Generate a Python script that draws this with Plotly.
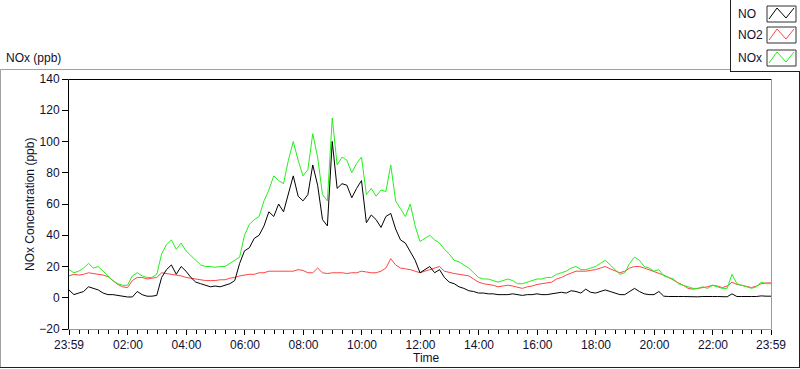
import datetime as dt
import plotly.graph_objects as go

# ---- data (10-minute samples) ----
start_time = "2000-01-01 23:59"
step_minutes = 10

no = [5, 2, 3, 4, 7, 6, 5, 3, 2, 2, 1.5, 1, 0.5, 0.5, 4, 2, 1, 1, 1.5, 13,
      18, 21, 15, 20, 17, 13, 10, 9, 8, 7, 7.5, 7, 8, 9, 11, 22, 30, 32, 38, 40,
      46, 55, 52, 60, 55, 66, 78, 65, 62, 66, 85, 72, 50, 46, 100, 70, 73, 72, 64, 70,
      75, 48, 53, 50, 45, 52, 54, 44, 37, 35, 29, 24, 16, 18, 20, 16, 18, 13, 10, 9,
      7, 6, 4.5, 4, 3, 3, 2.5, 2.5, 2, 2, 2, 2.5, 2, 1.5, 2, 2, 2.5, 2, 2, 2.5,
      3, 3.5, 3, 4.5, 4, 3, 5.5, 3.5, 3, 4, 5, 4, 3, 2, 2, 4, 6, 4, 2.5, 2,
      2, 4, 1, 0.8, 1, 0.8, 0.8, 0.6, 0.8, 0.6, 0.8, 0.6, 0.8, 0.8, 0.8, 0.6, 2.5, 0.8, 0.8, 0.6,
      0.8, 0.8, 1.2, 1, 1]

nox = [18, 16, 17, 19, 22, 19, 20, 17, 14, 11, 9, 8, 8, 14, 16, 14, 13, 13, 15, 28,
       34, 37, 31, 35, 30, 27, 24, 21, 20, 20, 19.5, 20, 20, 22, 24, 26, 40, 47, 50, 52,
       62, 69, 78, 75, 73, 88, 100, 88, 78, 82, 105, 90, 66, 62, 115, 85, 90, 88, 80, 86,
       90, 66, 70, 65, 69, 68, 85, 62, 57, 52, 60, 46, 36, 38, 40, 37, 35, 31, 28, 24,
       23, 21, 19, 16, 13, 12, 12, 11, 10, 11, 12, 11, 9, 9, 10, 11, 12, 12, 13, 13,
       15, 16, 17, 19, 20, 18, 18, 19, 20, 22, 24, 21, 18, 15, 16, 22, 26, 24, 20, 19,
       17, 18, 14, 13, 12, 9, 8, 7, 6, 6, 7, 6, 8, 7, 6, 6, 15, 9, 8, 7,
       6, 7, 10, 9, 9]

no2 = [14, 15, 14.5, 15, 16, 15.5, 15, 14.5, 13.5, 11, 8.5, 7, 6.5, 11, 13, 13, 12, 12.5, 13, 16,
       15.5, 15, 14.5, 14, 13, 12.5, 12, 11.5, 11, 11, 11, 11.5, 11.5, 12.5, 13, 14, 14.5, 15, 15, 16,
       16, 17, 17, 17, 17, 17, 17, 18, 17.5, 16, 16, 19, 16, 15.5, 16, 16, 16, 15.5, 16, 16,
       17, 16.5, 16, 16, 17, 19, 25, 21, 19, 18.5, 18, 17, 16, 17, 18, 18.5, 20, 17, 16, 15.5,
       15, 14.5, 14, 12, 10, 9, 8.5, 8, 7, 7.5, 8, 7.5, 6.5, 6, 7, 7.5, 8.5, 9, 9.5, 10,
       12, 13, 14.5, 16, 17, 17, 17, 17.5, 18, 19, 20, 18.5, 17, 16, 17, 19, 20, 20, 19, 18,
       17, 16, 14.5, 13, 11, 9.5, 8, 6, 5.5, 6, 6.5, 7, 8, 7.5, 6.5, 7.5, 10, 8.5, 8, 7,
       6.5, 7.5, 9, 9.5, 9.5]

tick_labels = ["23:59", "02:00", "04:00", "06:00", "08:00", "10:00", "12:00",
               "14:00", "16:00", "18:00", "20:00", "22:00", "23:59"]
tick_times = ["2000-01-01 23:59", "2000-01-02 02:00", "2000-01-02 04:00", "2000-01-02 06:00",
              "2000-01-02 08:00", "2000-01-02 10:00", "2000-01-02 12:00", "2000-01-02 14:00",
              "2000-01-02 16:00", "2000-01-02 18:00", "2000-01-02 20:00", "2000-01-02 22:00",
              "2000-01-02 23:59"]
y_ticks = [-20, 0, 20, 40, 60, 80, 100, 120, 140]

t0 = dt.datetime.strptime(start_time, "%Y-%m-%d %H:%M")
times = [t0 + dt.timedelta(minutes=step_minutes * i) for i in range(len(no))]

# ---- layout geometry (pixels) ----
W, H = 800, 369
L, R, T, B = 69, 771, 79, 329

def px(x):
    return (x - L) / (R - L)

def py(y):
    return (B - y) / (B - T)

TXT = "#101030"
FONT = "Liberation Sans"
GREEN = "#22f01a"
RED = "#ff4444"

fig = go.Figure()
fig.add_trace(go.Scatter(x=times, y=no2, mode="lines", name="NO2",
                         line=dict(color=RED, width=1)))
fig.add_trace(go.Scatter(x=times, y=nox, mode="lines", name="NOx",
                         line=dict(color=GREEN, width=1)))
fig.add_trace(go.Scatter(x=times, y=no, mode="lines", name="NO",
                         line=dict(color="black", width=1)))

shapes = []
def line(x0, y0, x1, y1, color, w=1):
    shapes.append(dict(type="line", xref="paper", yref="paper",
                       x0=px(x0), y0=py(y0), x1=px(x1), y1=py(y1),
                       line=dict(color=color, width=w)))

# plot frame (sunken look)
line(68.5, 79.5, 771.5, 79.5, "black")
line(68.5, 79.5, 68.5, 329.5, "black")
line(68.5, 329.5, 771.5, 329.5, "#9a9a9a")
line(771.5, 79.5, 771.5, 329.5, "#9a9a9a")
# outer panel
line(0.5, 69.5, 730, 69.5, "#a0a0a0")
line(0.5, 69.5, 0.5, 367.5, "#a0a0a0")
line(0, 367.5, 800, 367.5, "#202020")
line(799.5, 72, 799.5, 367.5, "#202020")
# legend box
line(730.5, 0, 730.5, 72, "#202020")
line(730.5, 71.5, 800, 71.5, "#202020")

annotations = []
legend_items = [("NO", "black", 14), ("NO2", RED, 35), ("NOx", GREEN, 58)]
for name, col, cy in legend_items:
    annotations.append(dict(text=name, xref="paper", yref="paper", x=px(736), y=py(cy),
                            xanchor="left", yanchor="middle", showarrow=False,
                            font=dict(family=FONT, size=12, color=TXT)))
    shapes.append(dict(type="rect", xref="paper", yref="paper",
                       x0=px(767), x1=px(796), y0=py(cy - 8), y1=py(cy + 8),
                       line=dict(color="#303030", width=1), fillcolor="white"))
    pts = [(769, cy + 5), (777, cy - 6), (786, cy + 4), (794, cy - 6)]
    path = "M " + " L ".join(f"{px(a)},{py(b)}" for a, b in pts)
    shapes.append(dict(type="path", xref="paper", yref="paper", path=path,
                       line=dict(color=col, width=1)))

annotations.append(dict(text="NOx (ppb)", xref="paper", yref="paper", x=px(4), y=py(58),
                        xanchor="left", yanchor="middle", showarrow=False,
                        font=dict(family=FONT, size=12, color=TXT)))
annotations.append(dict(text="Time", xref="paper", yref="paper", x=px(411), y=py(358),
                        xanchor="left", yanchor="middle", showarrow=False,
                        font=dict(family=FONT, size=12, color=TXT)))
annotations.append(dict(text="NOx Concentration (ppb)", xref="paper", yref="paper",
                        x=px(30), y=py(205), textangle=-90,
                        xanchor="center", yanchor="middle", showarrow=False,
                        font=dict(family=FONT, size=12, color=TXT)))

fig.update_layout(
    width=W, height=H,
    margin=dict(l=L, r=W - R, t=T, b=H - B, pad=0),
    paper_bgcolor="white", plot_bgcolor="white",
    showlegend=False,
    shapes=shapes, annotations=annotations,
    font=dict(family=FONT, size=12, color=TXT),
    xaxis=dict(
        range=[tick_times[0], tick_times[-1]],
        tickvals=tick_times, ticktext=tick_labels,
        ticks="outside", ticklen=5, tickcolor="black", tickwidth=1,
        showgrid=False, zeroline=False, showline=False,
        tickfont=dict(family=FONT, size=12, color=TXT),
        minor=dict(ticks="outside", ticklen=4, tickcolor="black", tickwidth=1,
                   dtick=20 * 60 * 1000, tick0="2000-01-02 00:00", showgrid=False),
    ),
    yaxis=dict(
        range=[-20, 140], tickvals=y_ticks,
        ticks="outside", ticklen=6, tickcolor="black", tickwidth=1,
        showgrid=False, zeroline=False, showline=False,
        tickfont=dict(family=FONT, size=12, color=TXT),
    ),
)

fig.write_html("out.html",
               config={"displayModeBar": False, "staticPlot": True},
               post_script="document.body.style.margin='0';document.body.style.overflow='hidden';")
